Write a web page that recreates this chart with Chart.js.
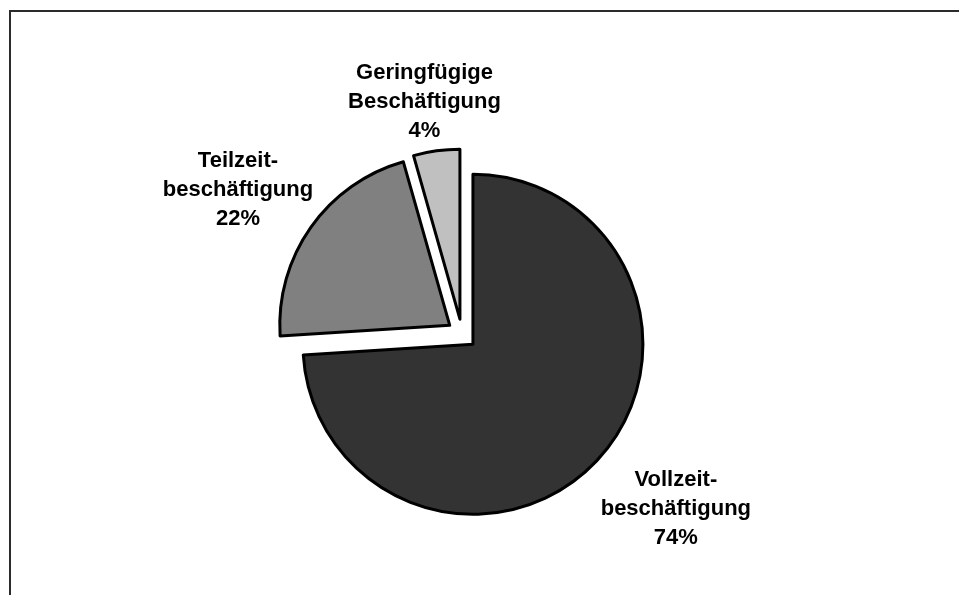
<!DOCTYPE html>
<html>
<head>
<meta charset="utf-8">
<script src="https://cdn.jsdelivr.net/npm/chart.js@4/dist/chart.umd.min.js"></script>
<style>
  html, body { margin: 0; padding: 0; background: #fff; }
  #wrap { position: relative; width: 959px; height: 595px; overflow: hidden; }
  #frame { position: absolute; left: 9px; top: 10px; width: 2000px; height: 2000px;
           border-top: 2px solid #2b2b2b; border-left: 2px solid #2b2b2b; }
  canvas { position: absolute; left: 0; top: 0; }
</style>
</head>
<body>
<div id="wrap">
  <div id="frame"></div>
  <canvas id="chart-pie" width="959" height="595"></canvas>
</div>
<script>
/* =====================
  Data
===================== */
var categories = ['Vollzeit-\nbeschäftigung', 'Teilzeit-\nbeschäftigung', 'Geringfügige\nBeschäftigung'];
var shares = [74.0, 21.6, 4.4];
var sliceColors = ['#333333', '#808080', '#c0c0c0'];

// every slice is pulled out from the centre (px), like an exploded pie
var explodePx = 15;
// label box position, relative to the outer edge of each slice at its mid angle
var labelShift = [[79, 46], [-73, -39], [-12, -51]];

var explodeSlices = {
  id: 'explodeSlices',
  afterDatasetUpdate: function(chart, args) {
    args.meta.data.forEach(function(arc) {
      var mid = (arc.startAngle + arc.endAngle) / 2;
      arc.x = arc.x + Math.cos(mid) * explodePx;
      arc.y = arc.y + Math.sin(mid) * explodePx;
    });
  }
};

var pieLabels = {
  id: 'pieLabels',
  afterDatasetsDraw: function(chart) {
    var ctx = chart.ctx;
    var meta = chart.getDatasetMeta(0);
    ctx.save();
    ctx.fillStyle = '#000';
    ctx.font = 'bold 22px "Liberation Sans", Arial, sans-serif';
    ctx.textAlign = 'center';
    ctx.textBaseline = 'alphabetic';
    meta.data.forEach(function(arc, i) {
      var mid = (arc.startAngle + arc.endAngle) / 2;
      var ex = arc.x + Math.cos(mid) * arc.outerRadius;
      var ey = arc.y + Math.sin(mid) * arc.outerRadius;
      var cx = ex + labelShift[i][0];
      var cy = ey + labelShift[i][1];
      var lines = categories[i].split('\n');
      lines.push(Math.round(shares[i]) + '%');
      lines.forEach(function(t, k) {
        ctx.fillText(t, cx, cy + 8 + (k - 1) * 29);
      });
    });
    ctx.restore();
  }
};

var ctx1 = document.getElementById('chart-pie').getContext('2d');
var pie_chart = new Chart(ctx1, {
  type: 'pie',
  data: {
    labels: categories,
    datasets: [{
      data: shares,
      backgroundColor: sliceColors,
      borderColor: '#000',
      borderWidth: 3,
      borderJoinStyle: 'round'
    }]
  },
  options: {
    responsive: false,
    animation: false,
    radius: 170,
    layout: { padding: { top: 73, bottom: 0, left: 0, right: 35 } },
    plugins: {
      legend: { display: false },
      tooltip: { enabled: false }
    }
  },
  plugins: [explodeSlices, pieLabels]
});
</script>
</body>
</html>
